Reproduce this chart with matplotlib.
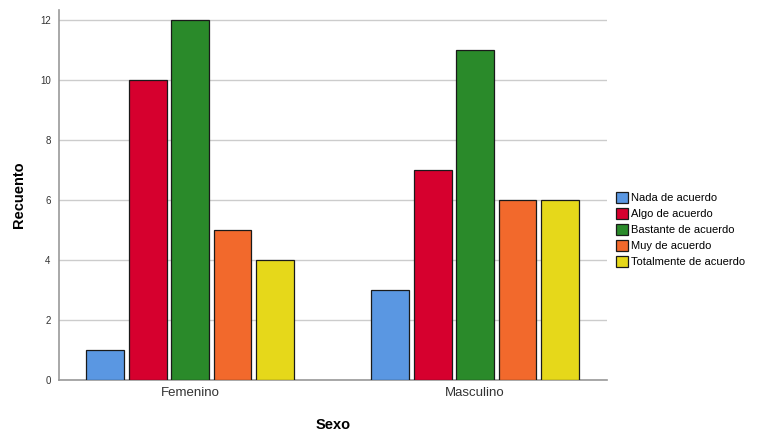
import matplotlib
matplotlib.use("Agg")
import matplotlib.pyplot as plt
import numpy as np

groups = ["Femenino", "Masculino"]
categories = ["Nada de acuerdo", "Algo de acuerdo", "Bastante de acuerdo",
              "Muy de acuerdo", "Totalmente de acuerdo"]
femenino = [1, 10, 12, 5, 4]
masculino = [3, 7, 11, 6, 6]
colors = ["#5a97e2", "#d6002e", "#2a8a2a", "#f2692c", "#e6d81a"]
yticks = [0, 2, 4, 6, 8, 10, 12]

plt.rcParams['font.family'] = ['Liberation Sans', 'DejaVu Sans']

fig = plt.figure(figsize=(7.57, 4.34), dpi=100)
ax = fig.add_axes([59/757, 1-380/434, (607-59)/757, (380-10)/434])

x = np.arange(len(groups))
step = 0.149
width = 0.133
values = np.array([femenino, masculino]).T
for i, (cat, col) in enumerate(zip(categories, colors)):
    ax.bar(x + (i - 2) * step, values[i], width=width, color=col,
           edgecolor="#1a1a1a", linewidth=0.9, label=cat, zorder=3)

ax.set_xlim(-0.46, 1.463)
ax.set_ylim(0, 12.33)
ax.set_yticks(yticks)
ax.set_yticklabels([str(t) for t in yticks], fontsize=7, color="#333333")
ax.set_xticks(x)
ax.set_xticklabels(groups, fontsize=9.5, color="#333333")
ax.tick_params(axis='both', length=0, pad=6)
ax.tick_params(axis='x', pad=5)
ax.yaxis.grid(True, color="#cccccc", linewidth=1.0, zorder=0)
for s in ["top", "right"]:
    ax.spines[s].set_visible(False)
for s in ["left", "bottom"]:
    ax.spines[s].set_color("#999999")
    ax.spines[s].set_linewidth(1.2)

ax.set_ylabel("Recuento", fontsize=10.5, fontweight="bold", labelpad=10)
ax.set_xlabel("Sexo", fontsize=10.5, fontweight="bold", labelpad=14)

fig.legend(loc="upper left", bbox_to_anchor=(612/757, 1-188/434), frameon=False,
           fontsize=8, handlelength=1.05, handleheight=1.05, handletextpad=0.3,
           labelspacing=0.45, borderaxespad=0)

fig.savefig("out.png", dpi=100)
